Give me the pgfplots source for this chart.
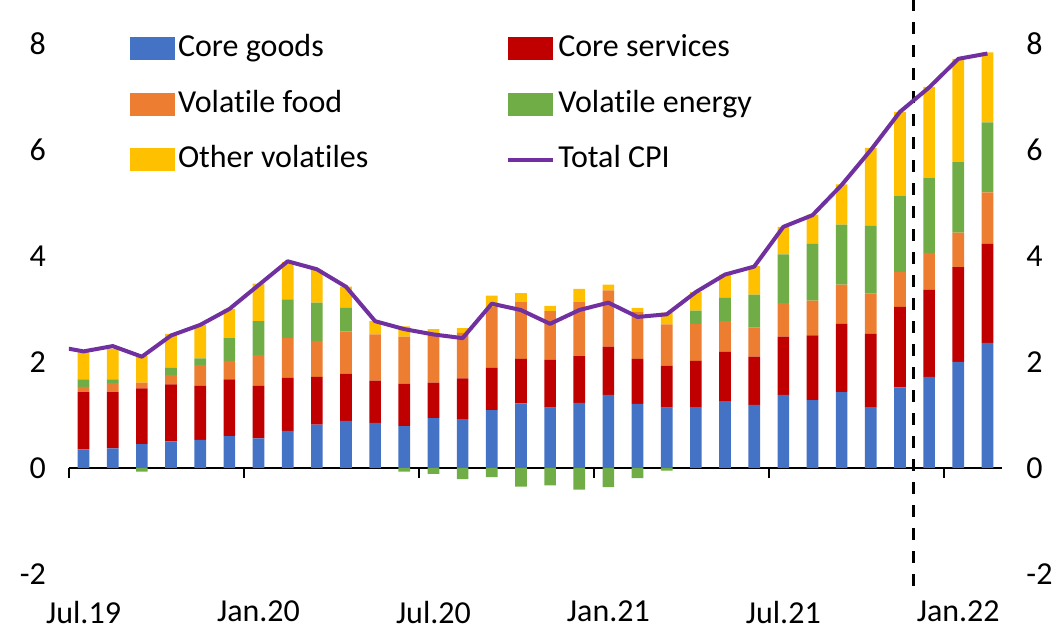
\documentclass[border=0pt]{standalone}
\usepackage{pgfplots}
\pgfplotsset{compat=1.18}
\usepackage{pgfplotstable}
\usepackage{fontspec}
\setmainfont{Carlito}[Ligatures=NoCommon]
\definecolor{cblue}{HTML}{4472C4}
\definecolor{cred}{HTML}{C00000}
\definecolor{corange}{HTML}{ED7D31}
\definecolor{cgreen}{HTML}{70AD47}
\definecolor{cyellow}{HTML}{FFC000}
\definecolor{cpurple}{HTML}{7030A0}

\pgfplotstableread{
x blue red orange green yellow
0 0.35 1.08 0.10 0.14 0.51
1 0.37 1.06 0.17 0.07 0.58
2 0.45 1.05 0.11 -0.07 0.50
3 0.50 1.08 0.17 0.14 0.64
4 0.53 1.02 0.39 0.13 0.63
5 0.60 1.07 0.35 0.43 0.55
6 0.56 0.99 0.58 0.64 0.71
7 0.70 1.00 0.75 0.73 0.71
8 0.82 0.90 0.68 0.72 0.62
9 0.89 0.89 0.80 0.44 0.40
10 0.85 0.80 0.87 0.00 0.25
11 0.79 0.80 0.89 -0.07 0.19
12 0.94 0.67 0.92 -0.11 0.09
13 0.92 0.77 0.86 -0.21 0.09
14 1.09 0.80 1.15 -0.17 0.21
15 1.22 0.84 1.08 -0.35 0.16
16 1.14 0.90 0.92 -0.33 0.10
17 1.23 0.88 1.03 -0.41 0.24
18 1.38 0.91 1.06 -0.36 0.11
19 1.21 0.85 0.88 -0.19 0.08
20 1.14 0.79 0.78 -0.05 0.22
21 1.15 0.87 0.70 0.25 0.35
22 1.26 0.93 0.58 0.44 0.44
23 1.19 0.91 0.55 0.62 0.54
24 1.38 1.10 0.63 0.92 0.52
25 1.28 1.22 0.66 1.07 0.55
26 1.43 1.29 0.74 1.13 0.76
27 1.15 1.38 0.76 1.28 1.47
28 1.52 1.52 0.66 1.44 1.58
29 1.72 1.64 0.70 1.41 1.72
30 2.00 1.79 0.65 1.33 1.95
31 2.36 1.87 0.97 1.32 1.32
}\bars

\pgfplotstableread{
x cpi
-1 2.3
0 2.2
1 2.3
2 2.1
3 2.5
4 2.7
5 3.0
6 3.45
7 3.9
8 3.75
9 3.42
10 2.77
11 2.62
12 2.52
13 2.45
14 3.1
15 2.98
16 2.72
17 2.98
18 3.12
19 2.85
20 2.9
21 3.32
22 3.65
23 3.8
24 4.55
25 4.77
26 5.34
27 6.0
28 6.72
29 7.18
30 7.72
31 7.82
}\cpi

\pgfplotsset{
  sqlegend/.style={legend image code/.code={\fill[##1] (0pt,-5.5pt) rectangle (22.5pt,6pt);}},
  linelegend/.style={legend image code/.code={\draw[##1] (0pt,0.25pt) -- (22.5pt,0.25pt);}},
}

\begin{document}
\begin{tikzpicture}[font=\fontsize{16}{19}\selectfont]
\path[use as bounding box] (-34.5pt,-28.5pt) rectangle (497.5pt,287pt);
\begin{axis}[
  at={(0,0)}, anchor=south west, scale only axis,
  width=466.5pt, height=265pt,
  xmin=-0.5, xmax=31.5, ymin=-2, ymax=8,
  ybar stacked, bar width=0.4,
  axis line style={draw=none}, major tick length=0pt,
  xtick={0,6,12,18,24,30},
  xticklabels={Jul.19,Jan.20,Jul.20,Jan.21,Jul.21,Jan.22},
  ytick={-2,0,2,4,6,8}, yticklabels={-2,0,2,4,6,8},
  x tick label style={yshift=-10pt},
  y tick label style={xshift=-8pt},
  clip=false,
  legend columns=2,
  legend cell align=left,
  legend style={draw=none, fill=none, inner sep=0pt, outer sep=0pt,
    at={(0.0654,1.017)}, anchor=north west,
    cells={anchor=west},
    nodes={inner sep=0pt, text height=11pt, text depth=3.5pt},
    row sep=13.25pt, column sep=1.5pt,
    /tikz/every even column/.append style={column sep=69pt}},
]
\addplot[fill=cgreen, draw=none, forget plot] table[x=x, y expr={min(\thisrow{green},0)}]{\bars};
\addplot[fill=cblue, draw=none, sqlegend] table[x=x, y=blue]{\bars};
\addplot[fill=cred, draw=none, sqlegend] table[x=x, y=red]{\bars};
\addplot[fill=corange, draw=none, sqlegend] table[x=x, y=orange]{\bars};
\addplot[fill=cgreen, draw=none, sqlegend] table[x=x, y expr={max(\thisrow{green},0)}]{\bars};
\addplot[fill=cyellow, draw=none, sqlegend] table[x=x, y=yellow]{\bars};
\addlegendimage{linelegend, color=cpurple, line width=2pt}
\legend{Core goods, Core services, Volatile food, Volatile energy, Other volatiles, Total CPI}
\draw[line width=1pt] (axis cs:-0.5,0) -- (axis cs:31.5,0);
\draw[line width=1pt] (axis cs:-0.5,0) -- ++(0pt,-5pt);
\draw[line width=1pt] (axis cs:5.5,0) -- ++(0pt,-5pt);
\draw[line width=1pt] (axis cs:11.5,0) -- ++(0pt,-5pt);
\draw[line width=1pt] (axis cs:17.5,0) -- ++(0pt,-5pt);
\draw[line width=1pt] (axis cs:23.5,0) -- ++(0pt,-5pt);
\draw[line width=1pt] (axis cs:29.5,0) -- ++(0pt,-5pt);
\draw[black, line width=1.5pt, dash pattern=on 6pt off 5.5pt] (axis cs:28.45,-2.22) -- (axis cs:28.45,8.9);
\end{axis}
\begin{axis}[
  at={(0,0)}, anchor=south west, scale only axis,
  width=466.5pt, height=265pt,
  xmin=-0.5, xmax=31.5, ymin=-2, ymax=8,
  axis line style={draw=none}, major tick length=0pt,
  xtick=\empty,
  ytick={-2,0,2,4,6,8}, yticklabels={-2,0,2,4,6,8},
  yticklabel pos=right,
  y tick label style={xshift=8.7pt},
]
\addplot[cpurple, line width=2pt, mark=none, line join=round] table[x=x, y=cpi]{\cpi};
\end{axis}
\end{tikzpicture}
\end{document}
